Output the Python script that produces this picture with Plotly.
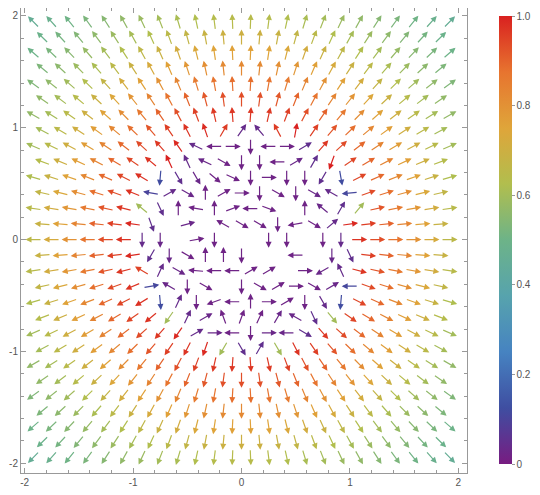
import numpy as np
import plotly.graph_objects as go
from plotly.colors import sample_colorscale

# ---------------- data ----------------
# Mathematica "Rainbow" gradient (Tol rainbow stops)
rainbow_colors = ["#781C81", "#3F4EA1", "#4683C1", "#57A3AD", "#6DB388",
                  "#B1BE4E", "#DFA53A", "#E7742F", "#D92120"]

# hexagonal sample grid: rows j = -14..14, columns c (x = c/12)
row_ids = list(range(-14, 15))
x_unit = 1.0 / 12.0
y_unit = 0.1389

profile_r = [0.0, 0.95, 1.2, 1.4, 1.6, 1.8, 2.0, 2.3, 2.8]
profile_level = [1.0, 1.0, 0.95, 0.88, 0.79, 0.70, 0.62, 0.55, 0.44]

# inner (irregular) arrows per row: (column, angle in degrees, level); None = no arrow
row_p7 = [(-2, 60, .96), (0, 55, .04), (2, 130, .04), (4, 118, .96), (6, 80, 1.0)]
row_p6 = [(-5, 155, .04), (-3, 180, .02), (-1, 0, .02), (1, 270, .02), (3, 180, .02),
          (5, 0, .02), (7, 30, .05)]
row_p5 = [(-8, 115, 1.0), (-6, 115, .04), (-4, 155, .03), (-2, 330, .02), (0, 270, .02),
          (2, 270, .02), (4, 180, .02), (6, 30, .03), (8, 60, .05), (10, 250, 1.0)]
row_p4 = [(-9, 265, .12), (-7, 300, .05), (-5, 300, .03), (-3, 320, .02), (-1, 335, .02),
          (1, 270, .02), (3, 0, .02), (5, 270, .02), (7, 270, .02), (9, 240, .05), (11, 280, .12)]
row_p3 = [(-10, 170, .10), (-8, 30, .04), (-6, 330, .03), (-4, 90, .02), (-2, 30, .02),
          (0, 0, .02), (2, 270, .02), (4, 330, .02), (6, 270, .02), (8, 330, .03),
          (10, 150, .04), (12, 185, .11)]
row_p2 = [(-11, 140, .60), (-9, 295, .05), (-7, 90, .02), (-5, 170, .02), (-3, 90, .02),
          (-1, 20, .02), (1, 180, .02), (3, 340, .02), (5, None, 0), (7, 90, .02),
          (9, 140, .03), (11, 60, .05), (13, 50, .60)]
row_p1 = [(-10, 290, .05), (-8, None, 0), (-6, 15, .03), (-4, None, 0), (-2, 150, .02),
          (0, 330, .02), (2, 330, .02), (4, 270, .02), (6, 190, .02), (8, 330, .02), (10, 40, .04)]
row_0 = [(-11, 270, .04), (-9, 270, .03), (-7, None, 0), (-5, 10, .02), (-3, 270, .02),
         (-1, None, 0), (1, None, 0), (3, 270, .02), (5, 270, .02), (7, None, 0),
         (9, 270, .02), (11, 270, .04)]
row_m1 = [(-10, 240, .05), (-8, 270, .03), (-6, 330, .02), (-4, 90, .02), (-2, 90, .02),
          (0, 270, .02), (2, None, 0), (4, None, 0), (6, 180, .02), (8, None, 0),
          (10, 270, .03), (12, 295, .05)]
row_m2 = [(-11, 150, .95), (-9, 65, .04), (-7, 330, .03), (-5, 175, .02), (-3, 180, .02),
          (-1, 180, .02), (1, 30, .02), (3, 30, .02), (5, None, 0), (7, 0, .02),
          (9, 210, .03), (11, 115, .04)]
row_m3 = [(-10, 10, .11), (-8, 150, .03), (-6, 270, .02), (-4, 330, .02), (-2, None, 0),
          (0, 270, .02), (2, 330, .02), (4, 30, .02), (6, 0, .02), (8, 330, .02),
          (10, 30, .03), (12, 180, .11)]
row_m4 = [(-9, 275, .12), (-7, 65, .04), (-5, 270, .02), (-3, 200, .02), (-1, 180, .02),
          (1, 90, .02), (3, 0, .02), (5, 30, .02), (7, 270, .02), (9, 300, .04), (11, 265, .12)]
row_m5 = [(-8, 235, .60), (-6, 65, .04), (-4, 30, .03), (-2, 110, .02), (0, 70, .02),
          (2, 65, .02), (4, 60, .03), (6, 150, .03), (8, 295, .05), (10, 310, .60)]
row_m6 = [(-5, 30, .04), (-3, 0, .03), (-1, 180, .02), (1, 270, .02), (3, 0, .03),
          (5, 180, .03), (7, 330, .05)]
row_m7 = [(-2, 240, .60), (0, 300, .05), (2, 60, .05), (4, 300, .60)]

inner_rows = {7: row_p7, 6: row_p6, 5: row_p5, 4: row_p4, 3: row_p3, 2: row_p2, 1: row_p1,
              0: row_0, -1: row_m1, -2: row_m2, -3: row_m3, -4: row_m4, -5: row_m5,
              -6: row_m6, -7: row_m7}

colorbar_ticks = [0, 0.2, 0.4, 0.6, 0.8, 1.0]
colorbar_labels = ["0", "0.2", "0.4", "0.6", "0.8", "1.0"]
axis_ticks = [-2, -1, 0, 1, 2]
axis_labels = ["-2", "-1", "0", "1", "2"]

# ---------------- layout constants ----------------
# the page body adds an 8px offset, so the figure is 8px smaller than the window
W, H = 532, 487
ML, MR, MT, MB = 13, 73, 0, 22
XR = [-2.034, 2.08]
YR = [-2.087, 2.071]
sx = (W - ML - MR) / (XR[1] - XR[0])
sy = (H - MT - MB) / (YR[1] - YR[0])
ARROW_PX = 16.5

colorscale = [[i / (len(rainbow_colors) - 1), c] for i, c in enumerate(rainbow_colors)]

override = {}
for j, items in inner_rows.items():
    for c, a, lv in items:
        override[(j, c)] = (a, lv)

annotations = []
for j in row_ids:
    cols = range(-23, 24, 2) if j % 2 == 0 else range(-22, 23, 2)
    y = j * y_unit
    for c in cols:
        x = c * x_unit
        if (j, c) in override:
            ang, lv = override[(j, c)]
            if ang is None:
                continue
            th = np.deg2rad(ang)
        else:
            th = np.arctan2(y, x)
            lv = float(np.interp(np.hypot(x, y), profile_r, profile_level))
        col = sample_colorscale(colorscale, [lv])[0]
        dx = np.cos(th) * ARROW_PX / 2 / sx
        dy = np.sin(th) * ARROW_PX / 2 / sy
        annotations.append(dict(
            x=x + dx, y=y + dy, ax=x - dx, ay=y - dy,
            xref="x", yref="y", axref="x", ayref="y",
            text="", showarrow=True, arrowhead=2, arrowsize=1.0,
            arrowwidth=1.2, arrowcolor=col, standoff=0, startstandoff=0))

plot_w = W - ML - MR
plot_h = H - MT - MB
bar_left = 491            # figure px
bar_center_from_bottom = 255

fig = go.Figure()
fig.add_trace(go.Scatter(
    x=[0], y=[0], mode="markers", hoverinfo="skip", showlegend=False,
    marker=dict(size=0.1, opacity=0, color=[0], cmin=0, cmax=1,
                colorscale=colorscale, showscale=True,
                colorbar=dict(thickness=13, len=448, lenmode="pixels",
                              x=(bar_left - ML) / plot_w, xanchor="left",
                              y=(bar_center_from_bottom - MB) / plot_h,
                              yanchor="middle", outlinewidth=0, xpad=0, ypad=0,
                              tickvals=colorbar_ticks, ticktext=colorbar_labels,
                              ticks="outside", ticklen=3, tickcolor="#999",
                              tickfont=dict(size=10, color="#555",
                                            family="Liberation Sans")))))

axis_common = dict(
    tickvals=axis_ticks, ticktext=axis_labels, ticks="inside", ticklen=5,
    tickcolor="#999", tickwidth=1,
    showline=True, linecolor="#999", linewidth=1, mirror="allticks",
    showgrid=False, zeroline=False,
    minor=dict(ticks="inside", ticklen=3, dtick=0.2, tick0=0, tickcolor="#999",
               showgrid=False),
    tickfont=dict(size=10, color="#555", family="Liberation Sans"),
    automargin=False, fixedrange=True)

fig.update_layout(
    width=W, height=H, margin=dict(l=ML, r=MR, t=MT, b=MB, pad=0),
    paper_bgcolor="white", plot_bgcolor="white", template="none",
    xaxis=dict(range=XR, **axis_common),
    yaxis=dict(range=YR, ticklabelstandoff=0, **axis_common),
    annotations=annotations, showlegend=False)

fig.write_html("out.html")
